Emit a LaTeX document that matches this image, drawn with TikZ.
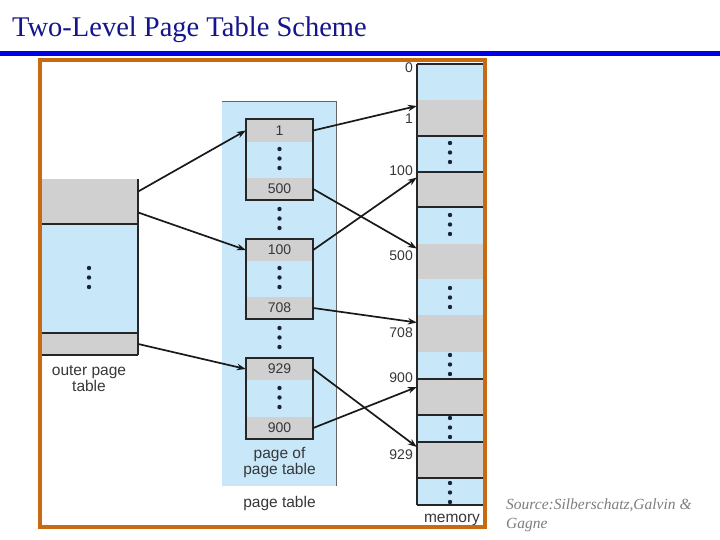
\documentclass[tikz,border=0pt]{standalone}
\usepackage{fontspec}
\setmainfont{Liberation Serif}
\setsansfont{Liberation Sans}
\usetikzlibrary{arrows.meta}
\definecolor{titleblue}{RGB}{20,20,140}
\definecolor{barblue}{RGB}{0,0,230}
\definecolor{frameorange}{RGB}{200,105,20}
\definecolor{cellblue}{RGB}{200,232,250}
\definecolor{cellgray}{RGB}{208,208,208}
\definecolor{dotnavy}{RGB}{25,35,60}
\definecolor{labelgray}{RGB}{55,55,55}
\definecolor{sourcegray}{RGB}{125,125,125}
\newcommand{\threedots}[2]{%
  \fill[dotnavy] (#1,#2) circle (2.2pt) (#1,#2+9.5) circle (2.2pt) (#1,#2+19) circle (2.2pt);}
\tikzset{
  entry/.style={fill=cellgray, inner sep=0pt, minimum width=67pt, minimum height=22pt,
    text=labelgray, font=\sffamily\fontsize{14}{14}\selectfont},
  frame/.style={fill=cellgray, inner sep=0pt, minimum width=66pt},
  addr/.style={anchor=east, inner sep=0pt, text=labelgray, font=\sffamily\fontsize{14}{14}\selectfont},
  caption/.style={align=center, inner sep=0pt, text=labelgray,
    font=\sffamily\fontsize{15.5}{16}\selectfont},
  link/.style={-{Stealth[length=9pt,width=6.5pt]}, line width=1.7pt, draw=black!90},
  rule/.style={line width=1.1pt, draw=black!85}
}
\begin{document}
\begin{tikzpicture}[x=1pt, y=-1pt]
\useasboundingbox (0,0) rectangle (720,540);
% title and bar
\node[anchor=base west, inner sep=0pt, text=titleblue, font=\fontsize{28.5}{28}\selectfont] (title) at (12,37) {Two-Level Page Table Scheme};
\fill[barblue] (0,51) rectangle (720,56.5);
% outer page table
\fill[cellblue] (40,224) rectangle (138,333);
\node[frame, minimum width=98pt, minimum height=45pt] (og1) at (89,201.5) {};
\node[frame, minimum width=98pt, minimum height=22pt] (og2) at (89,344) {};
\draw[rule] (40,224) -- (138,224) (40,333) -- (138,333) (40,355) -- (138,355) (138,179) -- (138,355);
\threedots{89}{268}
\node[caption] (outerlbl) at (89,379) {outer page\\table};
% page table
\fill[cellblue] (222,101) rectangle (336,486);
\draw[line width=0.8pt, draw=black!60] (222,101) -- (336,101) -- (336,486);
\node[entry, minimum height=23pt] (p1) at (279.5,130.5) {1};
\node[entry] (p500) at (279.5,189) {500};
\node[entry] (p100) at (279.5,250) {100};
\node[entry] (p708) at (279.5,308) {708};
\node[entry] (p929) at (279.5,369) {929};
\node[entry] (p900) at (279.5,428) {900};
\draw[rule] (246,119) rectangle (313,200);
\draw[rule] (246,239) rectangle (313,319);
\draw[rule] (246,358) rectangle (313,439);
\threedots{279.5}{149}
\threedots{279.5}{209}
\threedots{279.5}{268}
\threedots{279.5}{328}
\threedots{279.5}{388}
\node[caption] (pagelbl) at (279.5,462) {page of\\page table};
\node[caption] (tablelbl) at (279.5,503) {page table};
% memory
\fill[cellblue] (417,64) rectangle (483,505);
\node[frame, minimum height=36pt] (m1) at (450,118) {};
\node[frame, minimum height=35pt] (m100) at (450,189.5) {};
\node[frame, minimum height=35pt] (m500) at (450,261.5) {};
\node[frame, minimum height=37pt] (m708) at (450,333.5) {};
\node[frame, minimum height=36pt] (m900) at (450,397) {};
\node[frame, minimum height=36pt] (m929) at (450,460) {};
\draw[rule] (417,64) -- (483,64) (417,136) -- (483,136) (417,172) -- (483,172)
  (417,207) -- (483,207) (417,379) -- (483,379) (417,415) -- (483,415)
  (417,442) -- (483,442) (417,478) -- (483,478) (417,505) -- (483,505)
  (417,64) -- (417,505);
\threedots{450}{143}
\threedots{450}{215}
\threedots{450}{288}
\threedots{450}{355}
\threedots{450}{418}
\threedots{450}{483}
\node[addr] (a0) at (413,68) {0};
\node[addr] (a1) at (413,119) {1};
\node[addr] (a100) at (413,171) {100};
\node[addr] (a500) at (413,256) {500};
\node[addr] (a708) at (413,333) {708};
\node[addr] (a900) at (413,378) {900};
\node[addr] (a929) at (413,455) {929};
\node[caption] (memlbl) at (452,520) {memory};
% links
\draw[link] ([yshift=10pt]og1.east) -- (p1.west);
\draw[link] ([yshift=-11pt]og1.east) -- (p100.west);
\draw[link] (og2.east) -- (p929.west);
\draw[link] (p1.east) -- ([yshift=12pt]m1.west);
\draw[link] (p500.east) -- ([yshift=13pt]m500.west);
\draw[link] (p100.east) -- ([yshift=12pt]m100.west);
\draw[link] (p708.east) -- ([yshift=11pt]m708.west);
\draw[link] (p929.east) -- ([yshift=13pt]m929.west);
\draw[link] (p900.east) -- ([yshift=10pt]m900.west);
% frame
\draw[frameorange, line width=4pt] (40,60) rectangle (485,527);
% source
\node[anchor=north west, align=left, inner sep=0pt, text=sourcegray, font=\itshape\fontsize{15.5}{19}\selectfont] (source) at (506,499) {Source:Silberschatz,Galvin \&\\Gagne};
\end{tikzpicture}
\end{document}
